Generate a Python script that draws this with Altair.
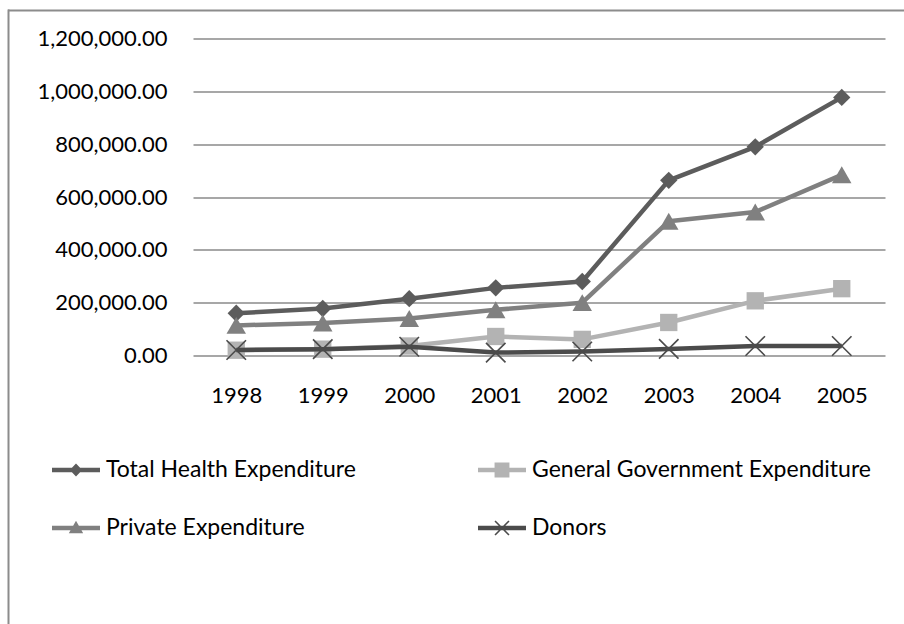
import altair as alt
import pandas as pd

# Health expenditure by source, 1998-2005
years = ["1998", "1999", "2000", "2001", "2002", "2003", "2004", "2005"]
series_names = [
    "Total Health Expenditure",
    "General Government Expenditure",
    "Private Expenditure",
    "Donors",
]
total = [160000, 178000, 215000, 256000, 280000, 663000, 790000, 977000]
government = [20000, 24000, 36000, 72000, 61000, 125000, 207000, 253000]
private = [114000, 123000, 140000, 173000, 200000, 508000, 543000, 684000]
donors = [21000, 24000, 33000, 11000, 15000, 25000, 36000, 36000]
y_ticks = [0, 200000, 400000, 600000, 800000, 1000000, 1200000]

values_by_series = [total, government, private, donors]
rows = []
for name, vals in zip(series_names, values_by_series):
    for yr, v in zip(years, vals):
        rows.append({"year": yr, "series": name, "value": v})
df = pd.DataFrame(rows)

FONT = "Lato"
FS = 22
colors = ["#5c5c5c", "#b3b3b3", "#808080", "#4b4b4b"]
GRID = "#8a8a8a"

# marker style per series
X_PATH = "M-1,-1L1,1M-1,1L1,-1"
marker_styles = [
    dict(shape="diamond", size=300, filled=True),
    dict(shape="square", size=300, filled=True),
    dict(shape="triangle-up", size=380, filled=True),
    dict(shape=X_PATH, size=380, filled=False, strokeWidth=1.6),
]

# legend glyphs: a thick bar with the series marker on top (unit box = 24 px)
BAR = "M-1,-0.094H1V0.094H-1Z"
legend_glyphs = [
    BAR + "M0,-0.27L0.26,0L0,0.27L-0.26,0Z",
    BAR + "M-0.31,-0.31H0.31V0.31H-0.31Z",
    BAR + "M0,-0.3L0.3,0.22L-0.3,0.22Z",
    BAR
    + "M-0.266,-0.314L0.314,0.266L0.266,0.314L-0.314,-0.266Z"
    + "M-0.266,0.314L-0.314,0.266L0.266,-0.314L0.314,-0.266Z",
]

color_scale = alt.Scale(domain=series_names, range=colors)

legend = alt.Legend(
    title=None,
    orient="none",
    legendX=-141,
    legendY=407.5,
    direction="horizontal",
    columns=2,
    columnPadding=122,
    rowPadding=22,
    padding=0,
    symbolSize=2304,
    symbolStrokeWidth=0,
    symbolOpacity=1,
    labelOffset=6,
    labelFont=FONT,
    labelFontSize=23,
    labelColor="#000000",
    labelLimit=500,
)

x_enc = alt.X(
    "year:O",
    scale=alt.Scale(type="point", padding=0.5),
    axis=alt.Axis(
        title=None,
        labelAngle=0,
        ticks=False,
        domain=False,
        grid=False,
        labelPadding=30,
        labelFont=FONT,
        labelFontSize=FS,
        labelColor="#000000",
    ),
)
y_enc = alt.Y(
    "value:Q",
    scale=alt.Scale(domain=[0, 1200000], nice=False),
    axis=alt.Axis(
        title=None,
        values=y_ticks,
        format=",.2f",
        ticks=False,
        domain=False,
        grid=True,
        gridColor=GRID,
        gridWidth=1.3,
        labelPadding=26,
        labelFont=FONT,
        labelFontSize=FS,
        labelColor="#000000",
    ),
)

base = alt.Chart(df)

# legend source: invisible points whose shape/colour scales feed the legend
legend_layer = base.mark_point(
    filled=True, opacity=0, size=2304, strokeWidth=0
).encode(
    x=x_enc,
    y=y_enc,
    color=alt.Color("series:N", scale=color_scale, sort=series_names, legend=legend),
    shape=alt.Shape(
        "series:N",
        scale=alt.Scale(domain=series_names, range=legend_glyphs),
        sort=series_names,
        legend=legend,
    ),
)

layers = [legend_layer]
for name, style in zip(series_names, marker_styles):
    part = base.transform_filter(alt.datum.series == name)
    color_enc = alt.Color("series:N", scale=color_scale, sort=series_names, legend=None)
    layers.append(
        part.mark_line(strokeWidth=4.5, strokeJoin="round").encode(
            x=x_enc, y=y_enc, color=color_enc
        )
    )
    pt_kwargs = dict(shape=style["shape"], size=style["size"], filled=style["filled"], opacity=1)
    if not style["filled"]:
        pt_kwargs["strokeWidth"] = style["strokeWidth"]
    layers.append(
        part.mark_point(**pt_kwargs).encode(x=x_enc, y=y_enc, color=color_enc)
    )

# outer frame of the chart area (top and left edges)
frame_src = alt.Chart(alt.Data(values=[{}]))
frame_top = frame_src.mark_rule(color="#8c8c8c", strokeWidth=2).encode(
    x=alt.value(-185), x2=alt.value(720), y=alt.value(-28)
)
frame_left = frame_src.mark_rule(color="#8c8c8c", strokeWidth=2).encode(
    x=alt.value(-184.5), y=alt.value(-29), y2=alt.value(600)
)

chart = (
    alt.layer(*layers, frame_top, frame_left)
    .properties(
        width=692,
        height=317,
        autosize=alt.AutoSizeParams(type="none"),
        padding={"left": 193, "top": 38.5, "right": 19, "bottom": 268.5},
        background="#ffffff",
    )
    .configure_view(stroke=None)
)

chart.save("out.html", embed_options={"renderer": "svg", "actions": False})
